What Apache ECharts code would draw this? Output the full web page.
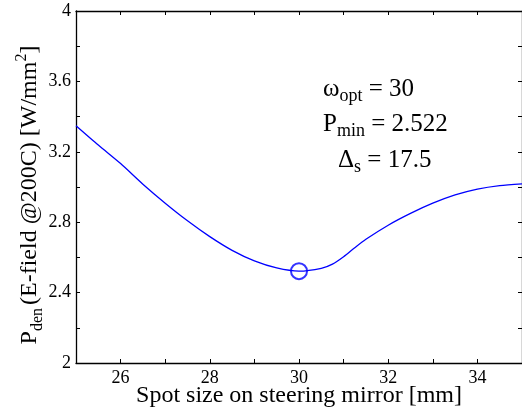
<!DOCTYPE html>
<html><head><meta charset="utf-8">
<script src="https://cdn.jsdelivr.net/npm/echarts@6/dist/echarts.min.js"></script>
<style>html,body{margin:0;padding:0;background:#fff}#c{width:522px;height:408px}</style>
</head><body><div id="c"></div>
<script>
var spotSize = [25, 25.5, 26, 26.5, 27, 27.5, 28, 28.5, 29, 29.5, 30, 30.5, 30.75, 31, 31.25, 31.5, 32, 32.5, 33, 33.5, 34, 34.5, 35];
var pden = [3.348, 3.238, 3.133, 3.016, 2.908, 2.808, 2.718, 2.640, 2.580, 2.540, 2.522, 2.538, 2.562, 2.604, 2.655, 2.703, 2.783, 2.850, 2.908, 2.955, 2.988, 3.008, 3.018];
var optPoint = [30, 2.522];
var xTicks = [26, 28, 30, 32, 34];
var yTicks = [2, 2.4, 2.8, 3.2, 3.6, 4];

var FONT = 'Liberation Serif';
var chart = echarts.init(document.getElementById('c'), null, {renderer: 'canvas'});
function xFmt(v){ for (var i=0;i<xTicks.length;i++) if (Math.abs(xTicks[i]-v)<1e-6) return String(xTicks[i]); return ''; }
function yFmt(v){ for (var i=0;i<yTicks.length;i++) if (Math.abs(yTicks[i]-v)<1e-6) return String(yTicks[i]); return ''; }
var axisCommon = {
  axisLine: {show: true, onZero: false, lineStyle: {color: '#000', width: 1.3}},
  axisTick: {show: true, inside: true, length: 4, lineStyle: {color: '#000', width: 1}},
  splitLine: {show: false}
};
var data = spotSize.map(function(x,i){return [x, pden[i]];});
var rm = {fontFamily: FONT, fontSize: 25, color: '#000', lineHeight: 32, verticalAlign: 'middle'};
var rs = {fontFamily: FONT, fontSize: 18, color: '#000', lineHeight: 32, verticalAlign: 'bottom'};
chart.setOption({
  animation: false,
  grid: {left: 76, right: 0, top: 11, bottom: 45, containLabel: false, outerBoundsMode: 'none'},
  xAxis: [
    Object.assign({type: 'value', min: 25, max: 35, interval: 1, position: 'bottom',
      axisLabel: {formatter: xFmt, color: '#000', fontFamily: FONT, fontSize: 18, margin: 6, showMinLabel: false, showMaxLabel: false},
      name: 'Spot size on steering mirror [mm]', nameLocation: 'middle', nameGap: 21, nameMoveOverlap: false,
      nameTextStyle: {color: '#000', fontFamily: FONT, fontSize: 24}}, axisCommon),
    Object.assign({type: 'value', min: 25, max: 35, interval: 1, position: 'top', axisLabel: {show: false}}, axisCommon)
  ],
  yAxis: [
    Object.assign({type: 'value', min: 2, max: 4, interval: 0.2, position: 'left',
      axisLabel: {formatter: yFmt, color: '#000', fontFamily: FONT, fontSize: 18, margin: 5},
      name: '{m|P}{s|den}{m|(E-field @200C) [W/mm}{u|2}{m|]}', nameLocation: 'middle', nameGap: 30, nameMoveOverlap: false,
      nameTextStyle: {color: '#000', fontFamily: FONT, fontSize: 24, padding: [0, 16, 0, 0],
        rich: {
          m: {fontFamily: FONT, fontSize: 24, color: '#000', lineHeight: 32, verticalAlign: 'middle'},
          s: {fontFamily: FONT, fontSize: 16, color: '#000', lineHeight: 32, verticalAlign: 'bottom', padding: [0, 3, 0, 0]},
          u: {fontFamily: FONT, fontSize: 16, color: '#000', lineHeight: 32, verticalAlign: 'top'}
        }}}, axisCommon),
    Object.assign({type: 'value', min: 2, max: 4, interval: 0.2, position: 'right', axisLabel: {show: false}}, axisCommon)
  ],
  series: [
    {type: 'line', data: data, smooth: 0.25, showSymbol: false, lineStyle: {color: '#0000ff', width: 1.3}, z: 3},
    {type: 'scatter', data: [optPoint], symbol: 'circle', symbolSize: 16,
      itemStyle: {color: 'rgba(0,0,0,0)', borderColor: '#0000ff', borderWidth: 2}, z: 4}
  ],
  graphic: [
    {type: 'text', left: 323, top: 77, style: {text: '{m|ω}{s|opt}{m| = 30}', rich: {m: rm, s: rs}}},
    {type: 'text', left: 323, top: 112, style: {text: '{m|P}{s|min}{m| = 2.522}', rich: {m: rm, s: rs}}},
    {type: 'text', left: 338, top: 148, style: {text: '{m|Δ}{s|s}{m| = 17.5}', rich: {m: rm, s: rs}}}
  ]
});
</script></body></html>
